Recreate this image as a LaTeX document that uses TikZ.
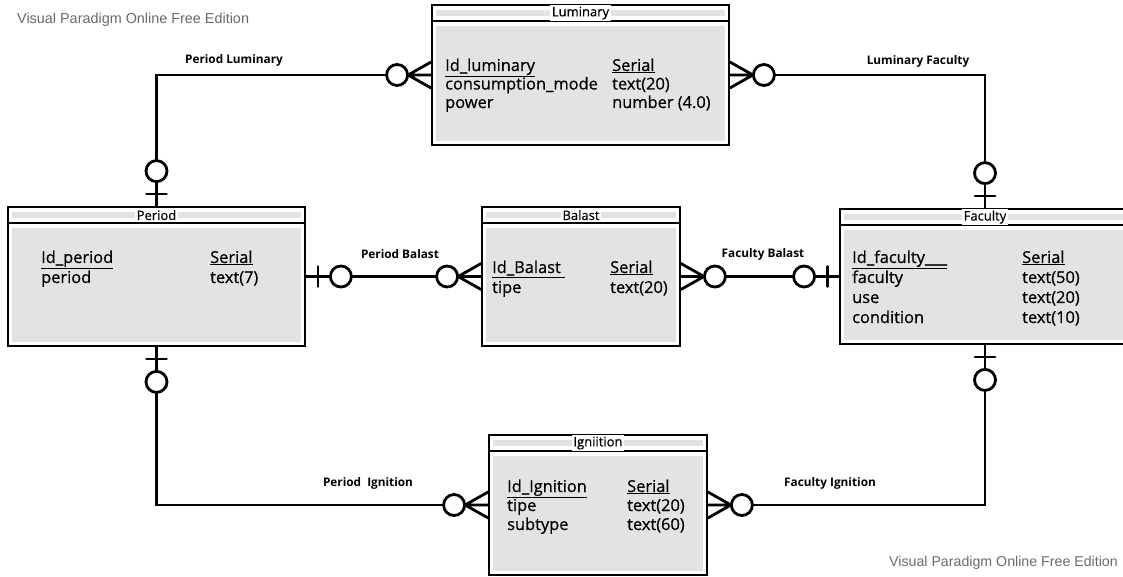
\documentclass[tikz,border=0pt]{standalone}
\usepackage{fontspec}
\setmainfont{Open Sans}
\newfontfamily\fieldfont{Open Sans}[FakeBold=0.6]
\newfontfamily\markfont{Liberation Sans}
\usetikzlibrary{positioning}

\definecolor{bodygray}{HTML}{E3E3E3}
\definecolor{markgray}{HTML}{6A6A6A}

\tikzset{
  entity/.style={draw, fill=white, line width=1.8pt, inner sep=0pt},
  etitle/.style={fill=white, inner sep=1.5pt, font=\fieldfont\fontsize{13}{13}\selectfont},
  field/.style={anchor=base west, inner sep=0pt, font=\fieldfont\fontsize{16.4}{16.4}\selectfont},
  rel/.style={font=\bfseries\fontsize{11.8}{11.8}\selectfont},
  conn/.style={line width=2.8pt, line cap=round},
  zero many/.pic={
    \draw[conn] (0,13) -- (23,0) -- (0,-13) (0,0) -- (23,0);
    \draw[conn, fill=white] (34,0) circle[radius=10.5pt];
  },
  zero one/.pic={
    \draw[conn] (12,-10) -- (12,10);
    \draw[conn, fill=white] (35,0) circle[radius=10.5pt];
  },
}

% name, centre, width, height, title
\newcommand\erentity[5]{%
  \node[entity, minimum width=#3, minimum height=#4] (#1) at (#2) {};
  \fill[bodygray] ([shift={(5,-22)}]#1.north west) rectangle ([shift={(-5,5)}]#1.south east);
  \fill[bodygray] ([shift={(5,-6)}]#1.north west) rectangle ([shift={(-5,-12)}]#1.north east);
  \draw[line width=1.8pt] ([yshift=-17]#1.north west) -- ([yshift=-17]#1.north east);
  \node[etitle] (#1-title) at ([yshift=-9]#1.north) {#5};
}

\begin{document}
\begin{tikzpicture}[x=1pt, y=1pt]
\useasboundingbox (0,0) rectangle (1123,576);

% entities
\erentity{luminary}{580.5,501}{297}{140}{Luminary}
\erentity{period}{156.5,299.5}{297}{139}{Period}
\erentity{balast}{581,299.5}{198}{139}{Balast}
\erentity{faculty}{985,299.5}{290}{135}{Faculty}
\erentity{ignition}{598,71}{218}{140}{Igniition}

% attributes
\foreach \lt/\rt [count=\i from 0] in {\underline{Id\_luminary}/\underline{Serial}, consumption\_mode/text(20), power/number (4.0)} {
  \node[field] (luminary-l\i) at (445,{505-18.5*\i}) {\lt};
  \node[field] (luminary-r\i) at (612,{505-18.5*\i}) {\rt};
}
\foreach \lt/\rt [count=\i from 0] in {\underline{Id\_period}/\underline{Serial}, period/text(7)} {
  \node[field] (period-l\i) at (41,{313-20*\i}) {\lt};
  \node[field] (period-r\i) at (210,{313-20*\i}) {\rt};
}
\foreach \lt/\rt [count=\i from 0] in {\underline{Id\_Balast\ }/\underline{Serial}, tipe/text(20)} {
  \node[field] (balast-l\i) at (492,{303-20*\i}) {\lt};
  \node[field] (balast-r\i) at (610,{303-20*\i}) {\rt};
}
\foreach \lt/\rt [count=\i from 0] in {\underline{Id\_faculty\_\_\_}/\underline{Serial}, faculty/text(50), use/text(20), condition/text(10)} {
  \node[field] (faculty-l\i) at (852,{313-20*\i}) {\lt};
  \node[field] (faculty-r\i) at (1022,{313-20*\i}) {\rt};
}
\foreach \lt/\rt [count=\i from 0] in {\underline{Id\_Ignition}/\underline{Serial}, tipe/text(20), subtype/text(60)} {
  \node[field] (ignition-l\i) at (507,{84-19*\i}) {\lt};
  \node[field] (ignition-r\i) at (627,{84-19*\i}) {\rt};
}

% relationships
\draw[conn] (period.north) |- (luminary.west);
\draw[conn] (luminary.east) -| (faculty.north);
\draw[conn] (period.east) -- (balast.west);
\draw[conn] (balast.east) -- (faculty.west);
\draw[conn] (period.south) |- (ignition.west);
\draw[conn] (faculty.south) |- (ignition.east);

\pic[rotate=90] at (period.north) {zero one};
\pic[rotate=180] at (luminary.west) {zero many};
\pic at (luminary.east) {zero many};
\pic[rotate=90] at (faculty.north) {zero one};
\pic at (period.east) {zero one};
\pic[rotate=180] at (balast.west) {zero many};
\pic at (balast.east) {zero many};
\pic[rotate=180] at (faculty.west) {zero one};
\pic[rotate=-90] at (period.south) {zero one};
\pic[rotate=180] at (ignition.west) {zero many};
\pic[rotate=-90] at (faculty.south) {zero one};
\pic at (ignition.east) {zero many};

\node[rel] (pl-lab) at (234,516) {Period Luminary};
\node[rel] (lf-lab) at (918,515) {Luminary Faculty};
\node[rel] (pb-lab) at (400,322) {Period Balast};
\node[rel] (fb-lab) at (763,322) {Faculty Balast};
\node[rel] (pi-lab) at (368,93) {Period\ \ Ignition};
\node[rel] (fi-lab) at (830,93) {Faculty Ignition};

% watermarks
\node[anchor=west, text=markgray, font=\markfont\fontsize{14.4}{14.4}\selectfont, inner sep=0pt] (mark-top) at (17,556) {Visual Paradigm Online Free Edition};
\node[anchor=east, text=markgray, font=\markfont\fontsize{14.2}{14.2}\selectfont, inner sep=0pt] (mark-bottom) at (1118,13) {Visual Paradigm Online Free Edition};
\end{tikzpicture}
\end{document}
